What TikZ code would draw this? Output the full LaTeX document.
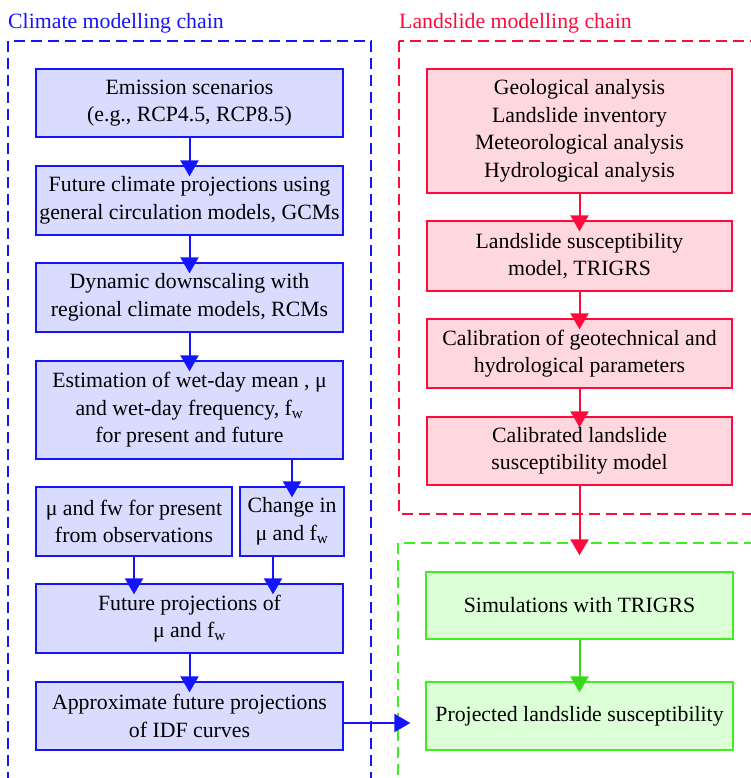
\documentclass[tikz,border=0pt]{standalone}
\usepackage{fontspec}
\setmainfont{Liberation Serif}
\usetikzlibrary{arrows.meta, calc, positioning}
\definecolor{climblue}{RGB}{20,20,255}
\definecolor{climfill}{RGB}{218,220,255}
\definecolor{slidered}{RGB}{255,10,60}
\definecolor{slidefill}{RGB}{255,215,222}
\definecolor{simgreen}{RGB}{60,240,30}
\definecolor{simfill}{RGB}{220,255,215}
\newcommand\fw{f\textsubscript{w}}

\begin{document}
\begin{tikzpicture}[x=1pt, y=-1pt, font=\fontsize{21.8}{27.5}\selectfont]
    \tikzset{
      chainbox/.style={
        rectangle,
        align=center,
        inner sep=1pt,
        line width=1.3pt,
        minimum height=69pt,
      },
      climbox/.style={chainbox, draw=climblue, fill=climfill, minimum width=307pt},
      slidebox/.style={chainbox, draw=slidered, fill=slidefill, minimum width=305pt},
      simbox/.style={chainbox, draw=simgreen, fill=simfill, minimum width=307pt},
      flow/.style={
        line width=2pt,
        -{Triangle[width=18pt, length=16pt]},
        shorten >=-11pt,
      },
      frame/.style={line width=1.3pt, dash pattern=on 11pt off 6pt},
    }
    \useasboundingbox (0,0) rectangle (751,778);

    % dashed frames
    \draw[frame, climblue] (8,41) rectangle (371,800);
    \draw[frame, slidered] (399,41) rectangle (770,514);
    \draw[frame, simgreen] (398,543) rectangle (770,800);
    \node[anchor=base west, inner sep=0pt, text=climblue] (climtitle) at (8,29) {Climate modelling chain};
    \node[anchor=base west, inner sep=0pt, text=slidered] (slidetitle) at (399,29) {Landslide modelling chain};

    % climate chain
    \node[climbox, minimum height=68pt] (emis) at (189.5,103) {Emission scenarios\\(e.g., RCP4.5, RCP8.5)};
    \node[climbox] (gcm) at (189.5,200.5) {Future climate projections using\\general circulation models, GCMs};
    \node[climbox] (rcm) at (189.5,297.5) {Dynamic downscaling with\\regional climate models, RCMs};
    \node[climbox, minimum height=98pt] (est) at (189.5,410) {Estimation of wet-day mean , μ\\and wet-day frequency, \fw\\for present and future};
    \node[climbox, minimum width=196pt] (obs) at (134,521.5) {μ and fw for present\\from observations};
    \node[climbox, minimum width=104pt] (chg) at (292,521.5) {Change in\\μ and \fw};
    \node[climbox] (fut) at (189.5,618.5) {Future projections of\\μ and \fw};
    \node[climbox, minimum height=68pt] (idf) at (189.5,716) {Approximate future projections\\of IDF curves};

    % landslide chain
    \node[slidebox, minimum height=124pt] (geo) at (579.5,131) {Geological analysis\\Landslide inventory\\Meteorological analysis\\Hydrological analysis};
    \node[slidebox, minimum height=70pt] (susc) at (579.5,256) {Landslide susceptibility\\model, TRIGRS};
    \node[slidebox] (calib) at (579.5,353.5) {Calibration of geotechnical and\\hydrological parameters};
    \node[slidebox, minimum height=68pt] (calmod) at (579.5,451) {Calibrated landslide\\susceptibility model};

    % simulation
    \node[simbox, minimum height=67pt] (sim) at (579.5,605.5) {Simulations with TRIGRS};
    \node[simbox, minimum height=68pt] (proj) at (579.5,716) {Projected landslide susceptibility};
    \coordinate (simin) at ([yshift=16pt]sim.north);
    \coordinate (projin) at ([xshift=-15pt, yshift=-7pt]proj.west);

    \path[climblue, every edge/.append style={flow}]
        (emis) edge (gcm)
        (gcm)  edge (rcm)
        (rcm)  edge (est)
        (est.south -| chg.north) edge (chg.north)
        (obs)  edge (obs.south |- fut.north)
        ([xshift=-19pt]chg.south) edge ([xshift=-19pt]chg.south |- fut.north)
        (fut)  edge (idf);
    \draw[flow, climblue, shorten >=0pt] ([yshift=-7pt]idf.east) -- (projin);

    \path[slidered, every edge/.append style={flow}]
        (geo)   edge (susc)
        (susc)  edge (calib)
        (calib) edge (calmod);
    \draw[flow, slidered, shorten >=0pt] (calmod) -- (simin);

    \draw[flow, simgreen!90!black, line width=2pt] (sim) -- (proj);
\end{tikzpicture}
\end{document}
